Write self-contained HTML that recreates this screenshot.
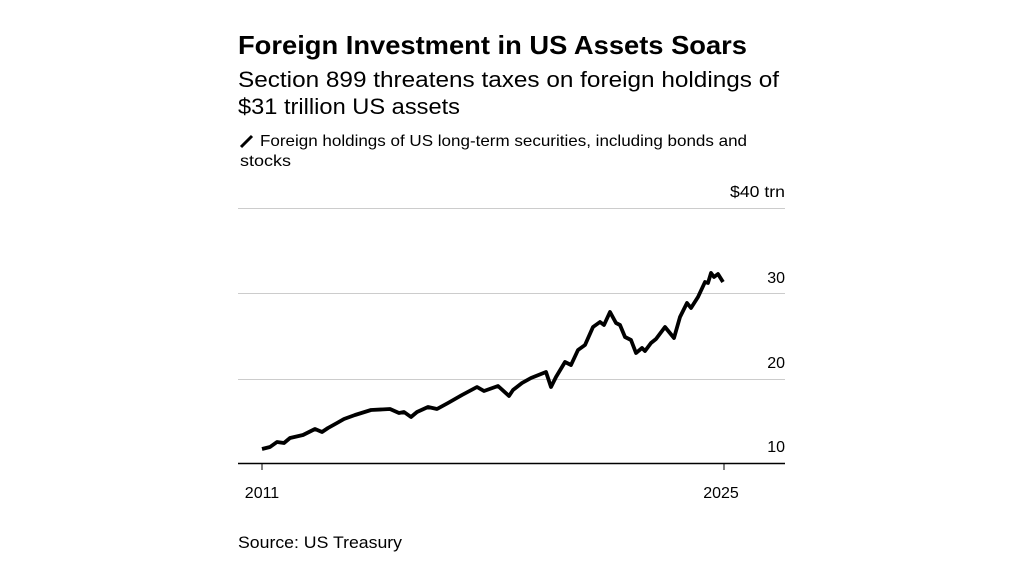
<!DOCTYPE html>
<html><head><meta charset="utf-8"><style>
body{margin:0;width:1024px;height:576px;background:#fff;font-family:"Liberation Sans",sans-serif;color:#000;overflow:hidden}
</style></head><body>
<svg width="1024" height="576" xmlns="http://www.w3.org/2000/svg" font-family="Liberation Sans, sans-serif">
<text x="238" y="54" font-size="26" font-weight="bold" textLength="509" lengthAdjust="spacingAndGlyphs">Foreign Investment in US Assets Soars</text>
<text x="238" y="87" font-size="22.5" textLength="541" lengthAdjust="spacingAndGlyphs">Section 899 threatens taxes on foreign holdings of</text>
<text x="238" y="114" font-size="22.5" textLength="222" lengthAdjust="spacingAndGlyphs">$31 trillion US assets</text>
<line x1="241" y1="147" x2="252" y2="136" stroke="#000" stroke-width="3"/>
<text x="260" y="146" font-size="16" textLength="487" lengthAdjust="spacingAndGlyphs">Foreign holdings of US long-term securities, including bonds and</text>
<text x="240" y="166" font-size="16" textLength="51" lengthAdjust="spacingAndGlyphs">stocks</text>
<text x="785" y="197" font-size="16" text-anchor="end" textLength="55" lengthAdjust="spacingAndGlyphs">$40 trn</text>
<text x="785" y="283" font-size="16" text-anchor="end">30</text>
<text x="785" y="368" font-size="16" text-anchor="end">20</text>
<text x="785" y="452" font-size="16" text-anchor="end">10</text>
<g stroke="#ccc" stroke-width="1"><line x1="238" y1="208.5" x2="785" y2="208.5"/><line x1="238" y1="293.5" x2="785" y2="293.5"/><line x1="238" y1="379.5" x2="785" y2="379.5"/></g>
<line x1="238" y1="463.5" x2="785" y2="463.5" stroke="#000" stroke-width="1.5"/>
<line x1="262" y1="463" x2="262" y2="470" stroke="#000"/>
<line x1="724" y1="463" x2="724" y2="470" stroke="#000"/>
<text x="262" y="498" font-size="16" text-anchor="middle">2011</text>
<text x="721" y="498" font-size="16" text-anchor="middle">2025</text>
<polyline fill="none" stroke="#000" stroke-width="3.8" stroke-linejoin="round" points="262,449 270,447 277,442 284,443 290,438 303,435 315,429 322,432 328,428 337,423 344,419 355,415 371,410 390,409 399,413 404,412 411,417 417,412 428,407 437,409 448,403 462,395 477,387 484,391 498,386 509,396 513,390 522,383 531,378 546,372 551,387 556,377 565,362 571,365 578,350 585,345 593,327 600,322 604,325 610,312 616,323 620,325 625,337 631,340 636,353 642,348 645,351 651,343 656,339 665,327 674,338 680,317 687,303 691,308 698,297 705,282 708,283 711,273 714,277 718,274 723,282"/>
<text x="238" y="548" font-size="17" textLength="164" lengthAdjust="spacingAndGlyphs">Source: US Treasury</text>
</svg>
</body></html>
